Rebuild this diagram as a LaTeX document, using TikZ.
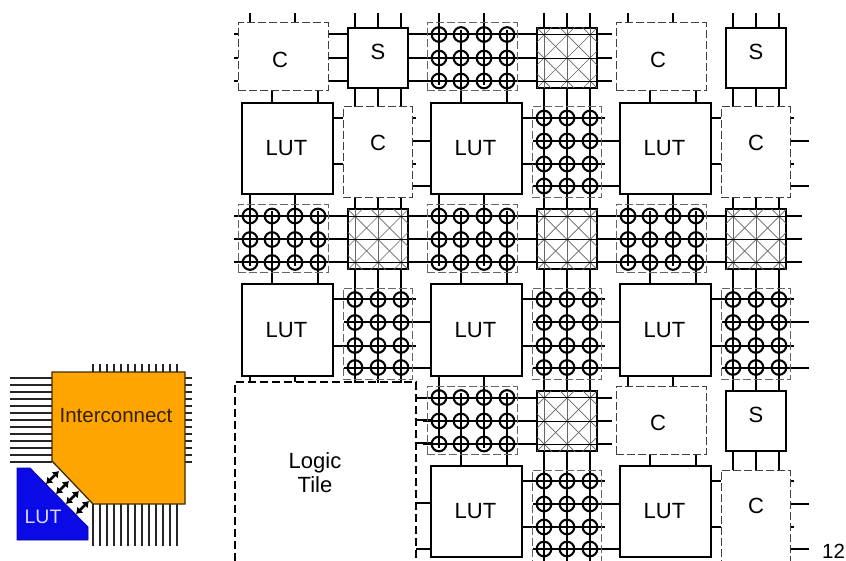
\documentclass[tikz,border=0pt]{standalone}
\usepackage{fontspec}
\setmainfont{Liberation Sans}
\usetikzlibrary{arrows.meta,backgrounds}
\definecolor{icorange}{HTML}{FFA500}
\definecolor{lutblue}{HTML}{0A0AE6}
\tikzset{
  tileat/.style 2 args={shift={(189*#1,181.5*#2)}},
  wire/.style={line width=2pt},
  ring/.style={line width=2.1pt},
  lutbox/.style={draw,line width=2pt,fill=white,minimum width=91pt,minimum height=91pt,inner sep=0pt,font=\fontsize{22}{24}\selectfont},
  swbox/.style={draw,line width=2pt,fill=white,minimum width=60pt,minimum height=60pt,inner sep=0pt},
  conbox/.style={draw=black!75,line width=1pt,dash pattern=on 8pt off 3pt,fill=white,inner sep=0pt},
  gridbox/.style={draw=black!60,line width=1pt,dash pattern=on 8pt off 3pt,inner sep=0pt},
  hsize/.style={minimum width=90pt,minimum height=68pt},
  vsize/.style={minimum width=69pt,minimum height=91pt},
  tag/.style={font=\fontsize{22}{24}\selectfont,inner sep=0pt}
}
\begin{document}
\begin{tikzpicture}[x=1pt,y=-1pt]
\useasboundingbox (0,0) rectangle (846,561);
\foreach \i/\j in {0/0,2/0,2/2}{\begin{scope}[tileat={\i}{\j}]
\node[conbox,hsize] (hc\i\j) at (283,57) {};
\node[tag] (hct\i\j) at (280,60) {C};
\node[swbox] (sw\i\j) at (378,58) {};
\node[tag] (swt\i\j) at (378,52) {S};
\node[conbox,vsize] (vc\i\j) at (377.5,152.5) {};
\node[tag] (vct\i\j) at (378,143) {C};
\end{scope}}
\foreach \i/\j in {1/0,0/1,1/1,2/1,1/2}{\begin{scope}[tileat={\i}{\j}]
\node[gridbox,hsize] (hc\i\j) at (283,57) {};
\foreach \x in {250,272,295,318}\foreach \y in {34.5,58,81}{\draw[ring] (\x,\y) circle (7.3);}
\node[swbox] (sw\i\j) at (378,58) {};
\begin{scope}
\clip (348,28) rectangle (408,88);
\foreach \s in {14,37,60,83,106}{\draw[black!60,line width=0.7pt] (348+\s+100,28-100)--(348+\s-100,28+100);}
\foreach \s in {-46,-23,0,23,46}{\draw[black!60,line width=0.7pt] (348+\s-100,28-100)--(348+\s+100,28+100);}
\foreach \x in {355,378,401}{\draw[black!60,line width=1pt] (\x,28)--(\x,88);}
\foreach \y in {34.5,58,81}{\draw[line width=0.8pt] (348,\y)--(408,\y);}
\end{scope}
\node[gridbox,vsize] (vc\i\j) at (377.5,152.5) {};
\foreach \x in {355,378,401}\foreach \y in {118,141,164,186}{\draw[ring] (\x,\y) circle (7.3);}
\end{scope}}
\foreach \i/\j/\inx/\outx in {0/0/234/423,1/0/234/423,2/0/348/408,0/1/234/423,1/1/234/423,2/1/234/424,1/2/234/423,2/2/348/408}{\begin{scope}[tileat={\i}{\j}]
\node[lutbox] (lut\i\j) at (287.5,148.5) {LUT\kern2pt};
\begin{pgfonlayer}{background}
\foreach \y in {34.5,58,81}{
\draw[wire] (\inx,\y)--(sw\i\j.west |- 0,\y);
\draw[wire] (sw\i\j.east |- 0,\y)--(\outx,\y);}
\foreach \x in {250,295}{\draw[wire] (\x,13)--(\x,85);}
\foreach \x in {272,318}{\draw[wire] (\x,30)--(lut\i\j.north -| \x,0);}
\foreach \x in {355,378,401}{\draw[wire] (\x,13)--(\x,201);}
\foreach \y in {118,164}{\draw[wire] (lut\i\j.east |- 0,\y)--(416,\y);}
\foreach \y in {141,186}{\draw[wire] (344,\y)--(431,\y);}
\end{pgfonlayer}
\end{scope}}
\node[font=\fontsize{20.5}{22}\selectfont,inner sep=0pt] (cornerlabel) at (833.5,551) {12};
\draw[line width=1.5pt,dash pattern=on 8pt off 4pt] (235,561)--(235,382)--(416,382)--(416,561);
\node[tag,align=center] (logictile) at (315,473) {Logic\\Tile};
\begin{pgfonlayer}{background}
\foreach \x in {250,295}{\draw[wire] (lut01.south -| \x,0)--(\x,382);}
\foreach \y in {398,420,443,503,549}{\draw[wire] (416,\y)--(431,\y);}
\end{pgfonlayer}
\foreach \k in {0,...,12}{
\draw[black!85,line width=1.4pt] (10,378+7*\k)--(52,378+7*\k);
\draw[black!85,line width=1.4pt] (93+7*\k,364)--(93+7*\k,372);
\draw[black!85,line width=1.4pt] (93+7*\k,504)--(93+7*\k,546);
\draw[black!85,line width=1.4pt] (185,378+7*\k)--(192,378+7*\k);}
\draw[fill=icorange,draw=black!75!icorange,line width=1.3pt] (52,372)--(185,372)--(185,504)--(93,504)--(52,461)--cycle;
\node[font=\fontsize{20.5}{22}\selectfont,inner sep=0pt,text=black!80!icorange] (icname) at (116,416) {Interconnect};
\draw[fill=lutblue,draw=lutblue!70!black,line width=0.8pt] (17,468)--(30,468)--(88,527)--(88,540)--(17,540)--cycle;
\node[font=\fontsize{19.5}{22}\selectfont,inner sep=0pt,text=blue!15!white] (lutname) at (43,517) {LUT};
\foreach \k in {0,1,2,3}{\draw[line width=2.8pt,{Latex[length=6pt,width=9pt]}-{Latex[length=6pt,width=9pt]}] (46+10*\k,484+10*\k)--(59+10*\k,471+10*\k);}
\end{tikzpicture}
\end{document}
